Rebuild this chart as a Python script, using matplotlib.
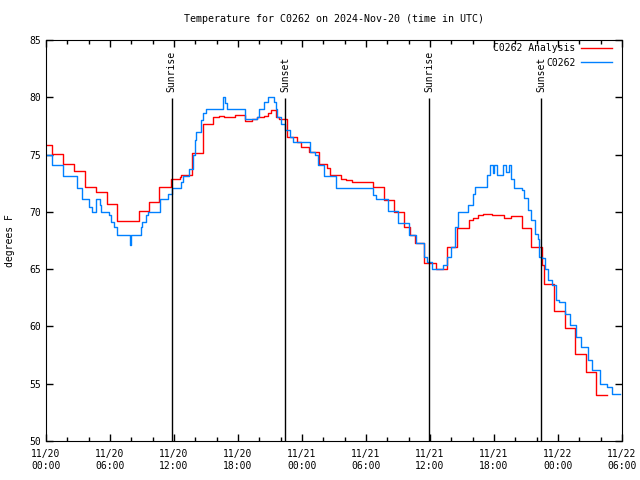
import matplotlib

matplotlib.use("Agg")
import matplotlib.pyplot as plt  # noqa: E402

# Hours since 2024-11-20 00:00 UTC and temperature (F), step series.
analysis_hours = [0.0, 0.6, 1.6, 2.65, 3.7, 4.65, 5.7, 6.7, 8.7, 9.65, 10.6,
                  11.7, 12.6, 12.7, 13.7, 14.7, 15.7, 16.2, 16.7, 17.7, 18.65,
                  19.3, 19.75, 20.4, 20.8, 21.1, 21.6, 21.8, 22.55, 23.55,
                  23.95, 24.7, 25.6, 26.3, 26.6, 27.7, 28.1, 28.65, 30.7,
                  31.7, 32.6, 33.55, 34.1, 34.6, 35.45, 36.6, 37.6, 38.5,
                  39.7, 40.0, 40.5, 41.0, 41.8, 42.9, 43.6, 44.6, 45.5, 46.5,
                  46.7, 47.6, 48.65, 49.6, 50.6, 51.6, 52.6]
analysis_temp = [75.8, 75.05, 74.15, 73.6, 72.2, 71.7, 70.7, 69.2, 70.05,
                 70.9, 72.2, 72.9, 73.05, 73.2, 75.1, 77.7, 78.25, 78.4, 78.3,
                 78.45, 77.9, 78.1, 78.25, 78.4, 78.6, 78.9, 78.25, 78.1,
                 76.55, 76.1, 75.7, 75.25, 74.2, 73.8, 73.2, 72.9, 72.75,
                 72.6, 72.15, 71.0, 70.0, 68.7, 68.0, 67.3, 65.55, 65.05,
                 66.9, 68.55, 69.3, 69.5, 69.7, 69.8, 69.7, 69.5, 69.6, 68.55,
                 66.95, 65.35, 63.7, 61.35, 59.9, 57.6, 56.0, 54.0, 54.0]

obs_hours = [0.0, 0.6, 1.55, 2.9, 3.4, 4.0, 4.3, 4.7, 5.05, 5.2, 5.9, 6.1,
             6.4, 6.7, 7.85, 8.0, 8.9, 9.0, 9.4, 9.6, 10.7, 11.4, 11.8, 12.7,
             12.8, 13.4, 13.8, 13.95, 14.1, 14.5, 14.75, 15.0, 16.55, 16.75,
             17.0, 18.7, 19.8, 20.0, 20.4, 20.8, 21.4, 21.55, 21.7, 22.0,
             22.4, 22.9, 23.2, 24.75, 25.2, 25.5, 26.1, 27.2, 30.7, 30.9,
             32.1, 33.0, 34.05, 34.7, 35.4, 35.7, 36.15, 37.25, 37.6, 38.0,
             38.3, 38.65, 39.6, 40.0, 40.2, 41.3, 41.6, 41.9, 42.0, 42.3,
             42.8, 43.1, 43.4, 43.6, 43.9, 44.6, 44.8, 45.2, 45.5, 45.8,
             46.1, 46.2, 46.5, 46.8, 47.1, 47.4, 47.8, 48.1, 48.7, 49.1,
             49.7, 50.2, 50.8, 51.2, 51.9, 52.6, 53.1, 53.8]
obs_temp = [75.0, 74.1, 73.1, 72.1, 71.1, 70.4, 70.0, 71.1, 70.6, 70.0, 69.7,
            69.15, 68.7, 68.0, 67.1, 68.0, 68.7, 69.15, 69.7, 70.0, 71.1,
            71.6, 72.05, 72.6, 73.1, 73.7, 75.0, 76.3, 77.0, 78.0, 78.6,
            79.0, 80.05, 79.5, 79.0, 78.1, 78.3, 79.0, 79.6, 80.05, 79.6,
            79.0, 78.25, 77.7, 77.15, 76.55, 76.1, 75.25, 74.95, 74.1, 73.1,
            72.05, 71.5, 71.1, 70.05, 69.05, 68.0, 67.25, 66.1, 65.65, 65.05,
            65.35, 66.1, 66.9, 68.7, 70.0, 70.6, 71.6, 72.2, 73.2, 74.1,
            73.4, 74.1, 73.2, 74.1, 73.5, 74.1, 72.9, 72.05, 71.9, 71.2,
            70.15, 69.3, 68.1, 67.65, 66.1, 66.0, 65.05, 64.05, 63.6, 62.3,
            62.1, 61.1, 60.1, 59.1, 58.2, 57.1, 56.2, 55.0, 54.7, 54.1, 54.1]

sun_hours = [11.8, 22.4, 35.9, 46.4]
sun_labels = ["Sunrise", "Sunset", "Sunrise", "Sunset"]

tick_hours = [0, 6, 12, 18, 24, 30, 36, 42, 48, 54]
tick_labels = ["11/20\n00:00", "11/20\n06:00", "11/20\n12:00", "11/20\n18:00",
               "11/21\n00:00", "11/21\n06:00", "11/21\n12:00", "11/21\n18:00",
               "11/22\n00:00", "11/22\n06:00"]

plt.rcParams["font.family"] = ["DejaVu Sans Mono"]
plt.rcParams["font.size"] = 7

fig = plt.figure(figsize=(6.4, 4.8), dpi=100)
ax = fig.add_axes([46 / 640, 39 / 480, 576 / 640, 401 / 480])

ax.plot(analysis_hours, analysis_temp, drawstyle="steps-post",
        color="#ff0000", lw=1, label="C0262 Analysis")
ax.plot(obs_hours, obs_temp, drawstyle="steps-post",
        color="#0080ff", lw=1, label="C0262")

# Sunrise / sunset markers
for h, lab in zip(sun_hours, sun_labels):
    ax.vlines(h, 50, 79.9, color="black", lw=1)
    ax.text(h, 80.45, lab, rotation=90, ha="center", va="bottom")

ax.set_xlim(0, 54)
ax.set_ylim(50, 85)
ax.set_xticks(tick_hours)
ax.set_xticklabels(tick_labels)
ax.set_xticks(range(0, 55, 2), minor=True)
ax.set_yticks(range(50, 90, 5))
ax.tick_params(direction="in", top=True, right=True, length=5, width=1)
ax.tick_params(which="minor", direction="in", top=True, length=3, width=1)
ax.tick_params(axis="x", pad=6)
ax.set_ylabel("degrees F", labelpad=10)
ax.set_title("Temperature for C0262 on 2024-Nov-20 (time in UTC)",
             fontsize=7.2, pad=13)

ax.legend(loc="upper right", bbox_to_anchor=(1.0, 1.016), markerfirst=False,
          frameon=False, handlelength=3.2, borderaxespad=0.6,
          labelspacing=0.45, handletextpad=0.6)

fig.savefig("out.png", dpi=100)
